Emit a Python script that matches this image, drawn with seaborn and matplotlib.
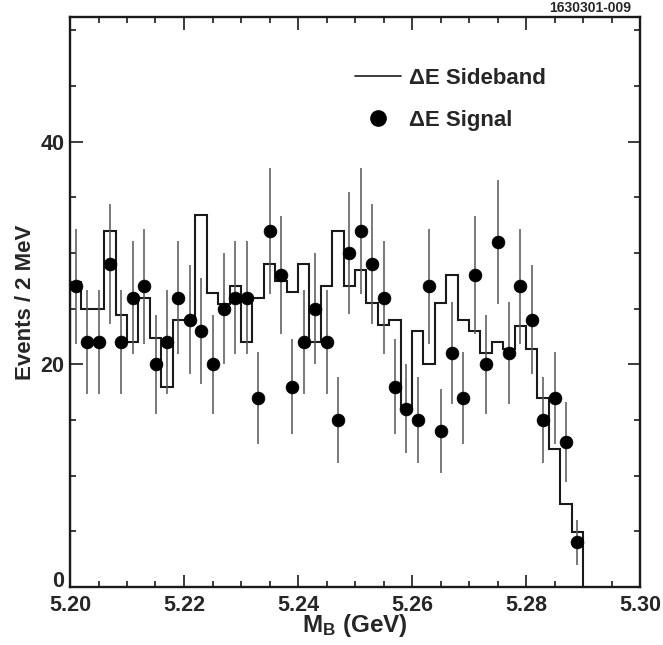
import numpy as np
import pandas as pd
import matplotlib
matplotlib.use("Agg")
import matplotlib.pyplot as plt
import seaborn as sns
from matplotlib.lines import Line2D
from matplotlib.ticker import MultipleLocator, FormatStrFormatter

# ---- data ----
bin_low = 5.200          # GeV, lower edge of first bin
bin_width = 0.002        # GeV (2 MeV)
signal = [27, 22, 22, 29, 22, 26, 27, 20, 22, 26, 24, 23, 20, 25, 26,
          26, 17, 32, 28, 18, 22, 25, 22, 15, 30, 32, 29, 26, 18, 16,
          15, 27, 14, 21, 17, 28, 20, 31, 21, 27, 24, 15, 17, 13, 4]
sideband = [27.4, 25.0, 25.0, 32.0, 24.4, 22.0, 26.0, 22.4, 18.0, 24.0,
            24.0, 33.4, 26.4, 25.4, 27.0, 22.0, 26.0, 29.0, 27.5, 26.5,
            29.0, 22.0, 27.0, 32.0, 27.0, 28.5, 25.5, 23.5, 24.0, 16.0,
            23.0, 20.0, 25.5, 28.0, 24.0, 23.0, 21.0, 22.0, 21.4, 23.4,
            21.4, 17.0, 12.4, 7.5, 4.9]
x_ticks = [5.20, 5.22, 5.24, 5.26, 5.28, 5.30]
y_ticks = [0, 20, 40]
legend_labels = ["\u0394E Sideband", "\u0394E Signal"]
plot_id = "1630301-009"

n = len(signal)
edges = bin_low + bin_width * np.arange(n + 1)
centers = edges[:-1] + bin_width / 2
df = pd.DataFrame({"mass": centers, "signal": signal, "sideband": sideband})
df["err"] = np.sqrt(df["signal"])

# ---- style ----
sns.set_theme(style="ticks")
plt.rcParams["font.family"] = ["Liberation Sans", "DejaVu Sans"]
plt.rcParams["font.weight"] = "bold"
plt.rcParams["mathtext.fontset"] = "custom"
plt.rcParams["mathtext.rm"] = "Liberation Sans:bold"
plt.rcParams["mathtext.bf"] = "Liberation Sans:bold"
plt.rcParams["mathtext.it"] = "Liberation Sans:bold"

fig = plt.figure(figsize=(6.63, 6.45), dpi=100)
ax = fig.add_axes([70 / 663, 1 - 587 / 645, 570 / 663, 570 / 645])

# sideband histogram (step outline, dropping to zero at the ends)
ax.stairs(df["sideband"], edges, baseline=0, color="#1a1a1a",
          linewidth=1.5, zorder=2)

# signal points with error bars
ax.errorbar(df["mass"], df["signal"], yerr=df["err"], fmt="none",
            ecolor="#555555", elinewidth=1.1, capsize=0, zorder=3)
sns.scatterplot(data=df, x="mass", y="signal", color="black", s=85,
                edgecolor="black", linewidth=0.5, ax=ax, zorder=4)

ax.set_xlim(5.2, 5.3)
ax.set_ylim(0, 51.2)
ax.set_xticks(x_ticks)
ax.xaxis.set_major_formatter(FormatStrFormatter("%.2f"))
ax.xaxis.set_minor_locator(MultipleLocator(0.005))
ax.set_yticks(y_ticks)
ax.yaxis.set_minor_locator(MultipleLocator(5))
ax.tick_params(which="both", direction="in", top=True, right=True,
               width=1.2, color="#1a1a1a")
ax.tick_params(which="major", length=9, labelsize=15.5)
ax.tick_params(axis="x", which="major", pad=6)
ax.tick_params(axis="y", which="major", pad=4)
for lab in ax.get_xticklabels() + ax.get_yticklabels():
    lab.set_fontweight("bold")
ax.get_yticklabels()[0].set_verticalalignment("baseline")
for sp in ax.spines.values():
    sp.set_linewidth(1.7)
    sp.set_color("#1a1a1a")

ax.set_xlabel(r"$\mathbf{M_B}$ (GeV)", fontsize=17.5, fontweight="bold",
              labelpad=-3)
ax.set_ylabel("Events / 2 MeV", fontsize=16, fontweight="bold", labelpad=3)

handles = [Line2D([], [], color="#1a1a1a", linewidth=1.2),
           Line2D([], [], color="black", marker="o", linestyle="none",
                  markersize=11)]
leg = ax.legend(handles, legend_labels, loc="upper left",
                bbox_to_anchor=((355 - 70) / 570, (587 - 68) / 570),
                frameon=False, borderpad=0, borderaxespad=0,
                handlelength=2.05, handletextpad=0.4, labelspacing=0.93,
                prop={"size": 16, "weight": "bold"})

fig.text(631 / 663, 1 - 8 / 645, plot_id, ha="right", va="center",
         fontsize=10, fontweight="bold")

fig.savefig("out.png", dpi=100)
